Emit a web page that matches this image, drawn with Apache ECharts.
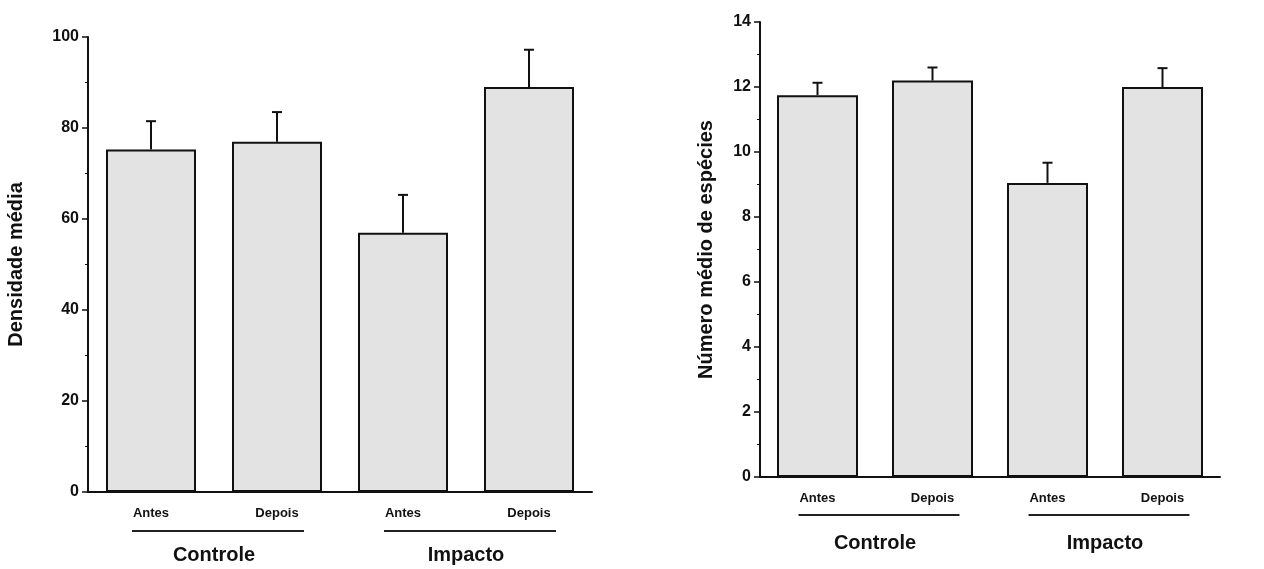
<!DOCTYPE html>
<html>
<head>
<meta charset="utf-8">
<script src="https://cdn.jsdelivr.net/npm/echarts@6/dist/echarts.min.js"></script>
<style>
  html, body { margin: 0; padding: 0; background: #fff; }
  #chart { width: 1264px; height: 569px; }
</style>
</head>
<body>
<div id="chart"></div>
<script>
// dados
const periodos = ['Antes', 'Depois', 'Antes', 'Depois'];
const grupos = ['Controle', 'Impacto'];
const densidade = [75.3, 77, 57, 89];
const densidadeErro = [6.2, 6.5, 8.3, 8.2];
const especies = [11.75, 12.2, 9.05, 12.0];
const especiesErro = [0.38, 0.4, 0.62, 0.58];

const fonte = '"Liberation Sans", Arial, sans-serif';
const chart = echarts.init(document.getElementById('chart'));

function errorSeries (idx, vals, errs) {
    return {
        type: 'custom',
        xAxisIndex: idx * 2,
        yAxisIndex: idx,
        z: 5,
        data: vals.map((v, i) => [i, v, v + errs[i]]),
        renderItem: function (params, api) {
            const base = api.coord([api.value(0), api.value(1)]);
            const top = api.coord([api.value(0), api.value(2)]);
            const style = { stroke: '#111', lineWidth: 2 };
            return {
                type: 'group',
                children: [
                    { type: 'line', shape: { x1: top[0], y1: base[1], x2: top[0], y2: top[1] }, style: style },
                    { type: 'line', shape: { x1: top[0] - 5, y1: top[1], x2: top[0] + 5, y2: top[1] }, style: style }
                ]
            };
        }
    };
}

function yAxis (grid, max, interval, name, gap) {
    return {
        type: 'value',
        gridIndex: grid,
        min: 0,
        max: max,
        interval: interval,
        name: name,
        nameLocation: 'middle',
        nameRotate: 90,
        nameGap: gap,
        nameTextStyle: { fontFamily: fonte, fontSize: 20, fontWeight: 'bold', color: '#111' },
        axisLine: { show: true, lineStyle: { color: '#111', width: 2 } },
        axisTick: { show: true, length: 6, lineStyle: { color: '#111', width: 1.5 } },
        minorTick: { show: true, splitNumber: 2, length: 3, lineStyle: { color: '#111' } },
        splitLine: { show: false },
        axisLabel: { fontFamily: fonte, fontSize: 16, fontWeight: 'bold', color: '#111', margin: 9 }
    };
}

function xAxes (grid, margin) {
    return [{
        type: 'category',
        gridIndex: grid,
        data: periodos,
        axisLine: { show: true, lineStyle: { color: '#111', width: 2 } },
        axisTick: { show: false },
        axisLabel: { fontFamily: fonte, fontSize: 13, fontWeight: 'bold', color: '#111', margin: 15 }
    }, {
        type: 'category',
        gridIndex: grid,
        data: grupos,
        position: 'bottom',
        axisLine: { show: false },
        axisTick: { show: false },
        axisLabel: { fontFamily: fonte, fontSize: 20, fontWeight: 'bold', color: '#111', margin: margin }
    }];
}

const barStyle = { color: '#e3e3e3', borderColor: '#111', borderWidth: 2 };

chart.setOption({
    animation: false,
    grid: [
        { left: 88, top: 37, width: 504, height: 455 },
        { left: 760, top: 22, width: 460, height: 455 }
    ],
    xAxis: xAxes(0, 53).concat(xAxes(1, 56)),
    yAxis: [
        yAxis(0, 100, 20, 'Densidade média', 62),
        yAxis(1, 14, 2, 'Número médio de espécies', 44)
    ],
    series: [
        { type: 'bar', xAxisIndex: 0, yAxisIndex: 0, data: densidade, barWidth: 90, itemStyle: barStyle },
        errorSeries(0, densidade, densidadeErro),
        { type: 'bar', xAxisIndex: 2, yAxisIndex: 1, data: especies, barWidth: 81, itemStyle: barStyle },
        errorSeries(1, especies, especiesErro)
    ]
});

// traços sob cada grupo
const linhas = [];
[[0, 0, 39], [2, 1, 38]].forEach(([xi, yi, dy]) => {
    const y0 = chart.convertToPixel({ yAxisIndex: yi }, 0);
    [[0, 1], [2, 3]].forEach(([a, b]) => {
        const x1 = chart.convertToPixel({ xAxisIndex: xi }, a) - 19;
        const x2 = chart.convertToPixel({ xAxisIndex: xi }, b) + 27;
        linhas.push({
            type: 'line',
            shape: { x1: x1, y1: y0 + dy, x2: x2, y2: y0 + dy },
            style: { stroke: '#222', lineWidth: 2 }
        });
    });
});
chart.setOption({ graphic: linhas });
</script>
</body>
</html>
